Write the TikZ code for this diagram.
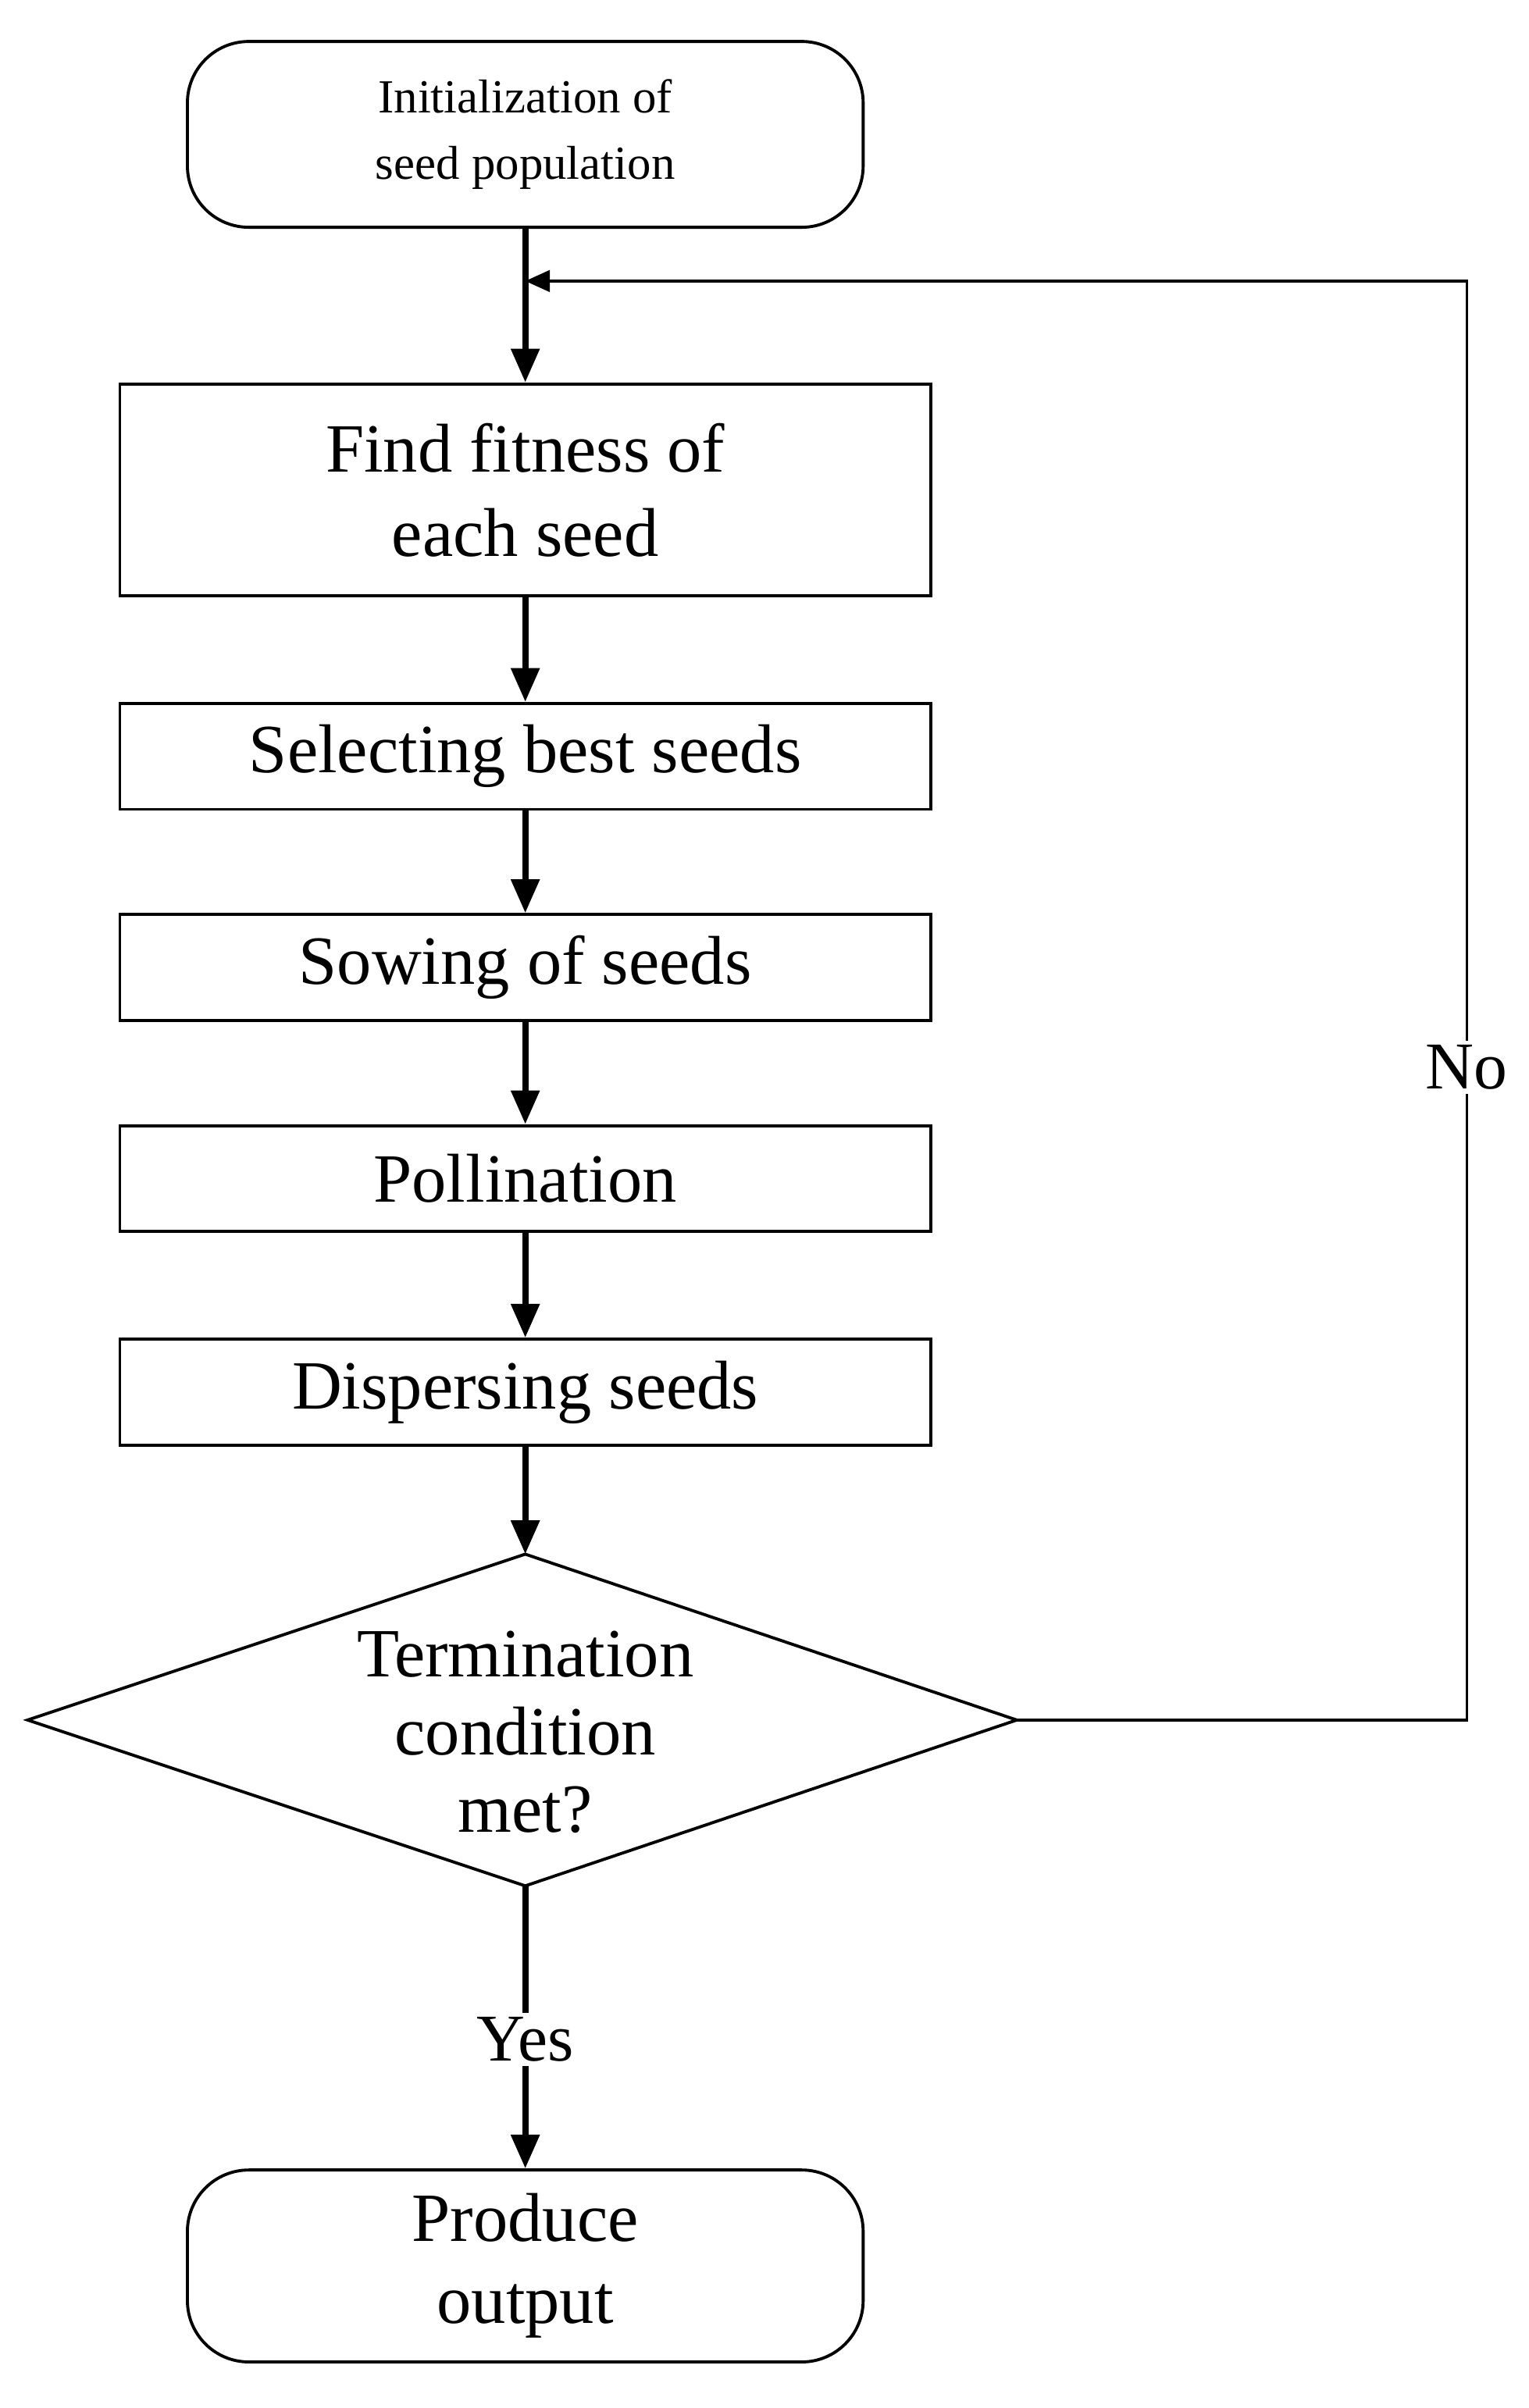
\documentclass[tikz,border=0pt]{standalone}
\usepackage{fontspec}
\setmainfont{Liberation Serif}
\usetikzlibrary{arrows.meta}
\begin{document}
\begin{tikzpicture}[x=0.05cm,y=-0.05cm,
 box/.style={draw,line width=2.8pt,minimum width=26.4cm,align=center,inner sep=0pt,font=\fontsize{64}{78}\selectfont},
 rbox/.style={draw,line width=2.8pt,rounded corners=2cm,minimum width=22cm,align=center,inner sep=0pt},
 flow/.style={line width=5.7pt,-{Triangle[length=1.1cm,width=0.9cm]}},
 loop/.style={line width=2.6pt,-{Triangle[length=0.8cm,width=0.7cm]}},
 lab/.style={fill=white,inner sep=4pt,font=\fontsize{62}{76}\selectfont}]
\useasboundingbox (0,0) rectangle (995,1568);
\node[rbox,minimum height=6.05cm,font=\fontsize{44}{62}\selectfont] (init) at (342,87.5) {Initialization of\\seed population};
\node[box,minimum height=6.9cm] (fit) at (342,319) {Find fitness of\\each seed};
\node[box,minimum height=3.45cm] (sel) at (342,492.5) {Selecting best seeds};
\node[box,minimum height=3.45cm] (sow) at (342,630) {Sowing of seeds};
\node[box,minimum height=3.45cm] (pol) at (342,767.5) {Pollination};
\node[box,minimum height=3.45cm] (dis) at (342,906.5) {Dispersing seeds};
\coordinate (dt) at (342,1012); \coordinate (db) at (342,1228);
\coordinate (dl) at (18,1120); \coordinate (dr) at (662,1120);
\draw[line width=2.8pt,line join=miter] (dt) -- (dr) -- (db) -- (dl) -- cycle;
\node[align=center,font=\fontsize{64}{72}\selectfont] (cond) at (342,1128) {Termination\\condition\\met?};
\node[rbox,minimum height=6.25cm,font=\fontsize{64}{76}\selectfont] (out) at (342,1475.5) {Produce\\output};
\node[lab] (yes) at (342,1328) {Yes};
\node[lab] (no) at (955,695) {No};
\coordinate (join) at (342,183);
\coordinate (c1) at (955,1120); \coordinate (c2) at (955,183);
\draw[line width=5.7pt] (init.south) -- (join);
\draw[flow] (join) -- (fit.north);
\draw[flow] (fit) -- (sel);
\draw[flow] (sel) -- (sow);
\draw[flow] (sow) -- (pol);
\draw[flow] (pol) -- (dis);
\draw[flow] (dis) -- (dt);
\draw[line width=5.7pt] (db) -- (yes.north);
\draw[flow] (yes.south) -- (out.north);
\draw[line width=2.6pt] (dr) -- (c1) -- (no.south);
\draw[loop] (no.north) -- (c2) -- (join);
\end{tikzpicture}
\end{document}
